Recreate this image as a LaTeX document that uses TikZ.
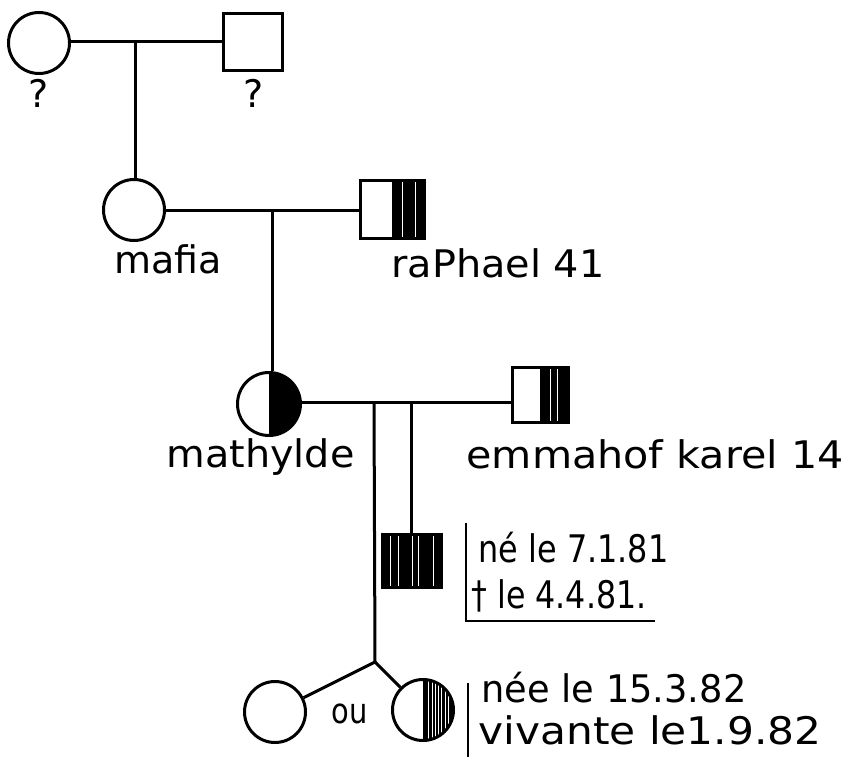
\documentclass[tikz,border=0pt]{standalone}
\usepackage{fontspec}
\setmainfont{DejaVu Sans}
\usepackage{graphicx}
\newcommand{\fitw}[2]{\resizebox{#1}{\height}{#2}}
\begin{document}
\begin{tikzpicture}[x=1pt,y=-1pt,line width=3pt,
  fem/.style={circle,draw,inner sep=0pt,minimum size=#1},
  mal/.style n args={2}{rectangle,draw,inner sep=0pt,minimum width=#1,minimum height=#2},
  halfR/.style={path picture={
      \fill[black] (path picture bounding box.north) rectangle (path picture bounding box.south east);
      \foreach \s in {#1}
        \draw[white,line width=0.7pt] ([xshift=\s pt]path picture bounding box.north) -- ([xshift=\s pt]path picture bounding box.south);}},
  fullF/.style={path picture={
      \fill[black] (path picture bounding box.north west) rectangle (path picture bounding box.south east);
      \foreach \s in {#1}
        \draw[white,line width=0.6pt] ([xshift=\s pt]path picture bounding box.north) -- ([xshift=\s pt]path picture bounding box.south);}},
  lbl/.style={inner sep=0pt,anchor=base west,font=\fontsize{38}{42}\selectfont},
  bar/.style={line width=2pt}]
\useasboundingbox (0,0) rectangle (847,760);

% generation 1
\node[fem=61pt] (gm) at (39,43) {};
\node[mal={59pt}{57pt}] (gf) at (253,42) {};
\node[lbl,anchor=base] (q1) at (39,108) {?};
\node[lbl,anchor=base] (q2) at (254,107) {?};
\draw (gm.east |- gf.west) -- (gf.west);
\coordinate (c1) at (135,42);

% generation 2
\node[fem=61pt] (mafia) at (134,210) {};
\node[mal={64pt}{58pt},halfR={10,23}] (raph) at (392,209) {};
\draw (c1) -- (c1 |- mafia.north);
\draw (mafia) -- (mafia -| raph.west);
\node[lbl] (tmafia) at (113,273) {mafia};
\node[lbl] (traph) at (390,277) {\fitw{213pt}{raPhael 41}};
\coordinate (c2) at (272,210);

% generation 3
\node[fem=63pt,halfR={}] (math) at (269,404) {};
\node[mal={56pt}{55pt},halfR={10,17}] (emma) at (540,395) {};
\draw (c2) -- (c2 |- math.north);
\draw (math.east |- 0,402) -- (emma.west |- 0,402);
\node[lbl] (tmath) at (165,467) {\fitw{188pt}{mathylde}};
\node[lbl] (temma) at (465,468) {\fitw{377pt}{emmahof karel 14}};
\coordinate (c3) at (374,402);
\coordinate (c4) at (411,402);

% son
\node[mal={59pt}{53pt},fullF={-22,-14,0,6,21}] (son) at (412,561) {};
\draw (c4) -- (c4 |- son.north);
\coordinate (b1) at (466,523);
\coordinate (b2) at (466,621);
\coordinate (b3) at (655,621);
\draw[bar] (b1) -- (b2) -- (b3);
\node[lbl] (tson1) at (477,562) {\fitw{190pt}{né le 7.1.81}};
\node[lbl] (tson2) at (470,608) {\fitw{175pt}{† le 4.4.81.}};

% daughters
\coordinate (br) at (375,662);
\draw (c3) -- (br);
\node[fem=61pt] (g1) at (275,712) {};
\node[fem=61pt,halfR={5,9,12,15,18,22,25}] (g2) at (423,710) {};
\draw (br) -- (g1);
\draw (br) -- (g2);
\node[lbl,font=\fontsize{35}{38}\selectfont] (tou) at (330,723) {\fitw{36pt}{ou}};
\coordinate (b4) at (468,683);
\coordinate (b5) at (468,757);
\draw[bar] (b4) -- (b5);
\node[lbl] (td1) at (480,702) {\fitw{265pt}{née le 15.3.82}};
\node[lbl] (td2) at (477,744) {\fitw{343pt}{vivante le1.9.82}};
\end{tikzpicture}
\end{document}
